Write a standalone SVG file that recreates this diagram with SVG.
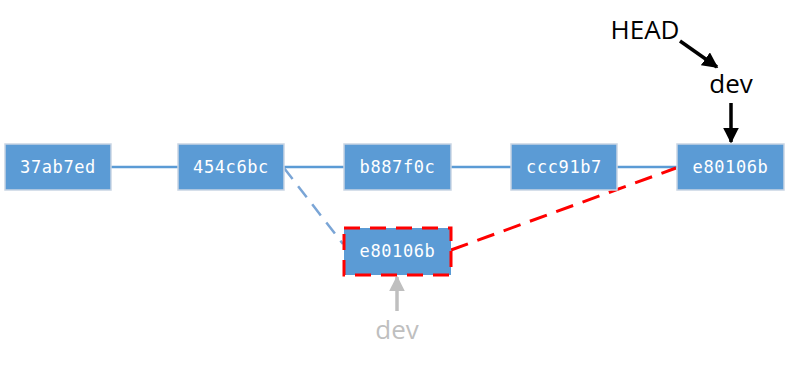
<svg xmlns="http://www.w3.org/2000/svg" width="790" height="365" viewBox="0 0 790 365">
<defs>
<style>
.box{fill:#5b9bd5;stroke:#c9d5e3;stroke-width:1.5}
.lbl{font-family:"DejaVu Sans Mono","Liberation Mono",monospace;font-size:17px;fill:#ffffff;text-anchor:middle;letter-spacing:0.6px}
.ref{font-family:"Open Sans","Liberation Sans",sans-serif;font-size:26px;text-anchor:middle}
.ln{stroke:#5b9bd5;stroke-width:2.5;fill:none}
</style>
<marker id="ab" viewBox="0 0 10 10" refX="9" refY="5" markerWidth="4.5" markerHeight="4.5" orient="auto" markerUnits="strokeWidth"><path d="M0,0 L10,5 L0,10 z" fill="#000"/></marker>
<marker id="ag" viewBox="0 0 10 10" refX="9" refY="5" markerWidth="4.5" markerHeight="4.5" orient="auto" markerUnits="strokeWidth"><path d="M0,0 L10,5 L0,10 z" fill="#bfbfbf"/></marker>
</defs>
<rect width="790" height="365" fill="#ffffff"/>
<g id="connectors">
<line class="ln" x1="111" y1="167" x2="178" y2="167"/>
<line class="ln" x1="284" y1="167" x2="344" y2="167"/>
<line class="ln" x1="451" y1="167" x2="511" y2="167"/>
<line class="ln" x1="617" y1="167" x2="677" y2="167"/>
<line x1="284" y1="168" x2="343" y2="244" stroke="#7aa5d6" stroke-width="2.5" stroke-dasharray="14,9"/>
<line x1="451" y1="250" x2="676" y2="168" stroke="#ff0000" stroke-width="3" stroke-dasharray="18,10"/>
<line x1="680" y1="41" x2="717" y2="67" stroke="#000" stroke-width="3.5" marker-end="url(#ab)"/>
<line x1="731" y1="103" x2="731" y2="142" stroke="#000" stroke-width="3.5" marker-end="url(#ab)"/>
<line x1="397" y1="311" x2="397" y2="277" stroke="#bfbfbf" stroke-width="3.5" marker-end="url(#ag)"/>
</g>
<g id="n1"><rect class="box" x="5" y="144" width="106" height="46"/><text class="lbl" x="58" y="173">37ab7ed</text></g>
<g id="n2"><rect class="box" x="178" y="144" width="106" height="46"/><text class="lbl" x="231" y="173">454c6bc</text></g>
<g id="n3"><rect class="box" x="344" y="144" width="107" height="46"/><text class="lbl" x="397.5" y="173">b887f0c</text></g>
<g id="n4"><rect class="box" x="511" y="144" width="106" height="46"/><text class="lbl" x="564" y="173">ccc91b7</text></g>
<g id="n5"><rect class="box" x="677" y="144" width="107" height="46"/><text class="lbl" x="730.5" y="173">e80106b</text></g>
<g id="n6"><rect x="344" y="228" width="107" height="47" fill="#5b9bd5" stroke="#ff0000" stroke-width="3" stroke-dasharray="16,10"/><text class="lbl" x="397.5" y="257">e80106b</text></g>
<g id="head"><text class="ref" x="645" y="39" fill="#000">HEAD</text></g>
<g id="dev"><text class="ref" x="731" y="93" fill="#000">dev</text></g>
<g id="dev-old"><text class="ref" x="397" y="339" fill="#bfbfbf">dev</text></g>
</svg>
